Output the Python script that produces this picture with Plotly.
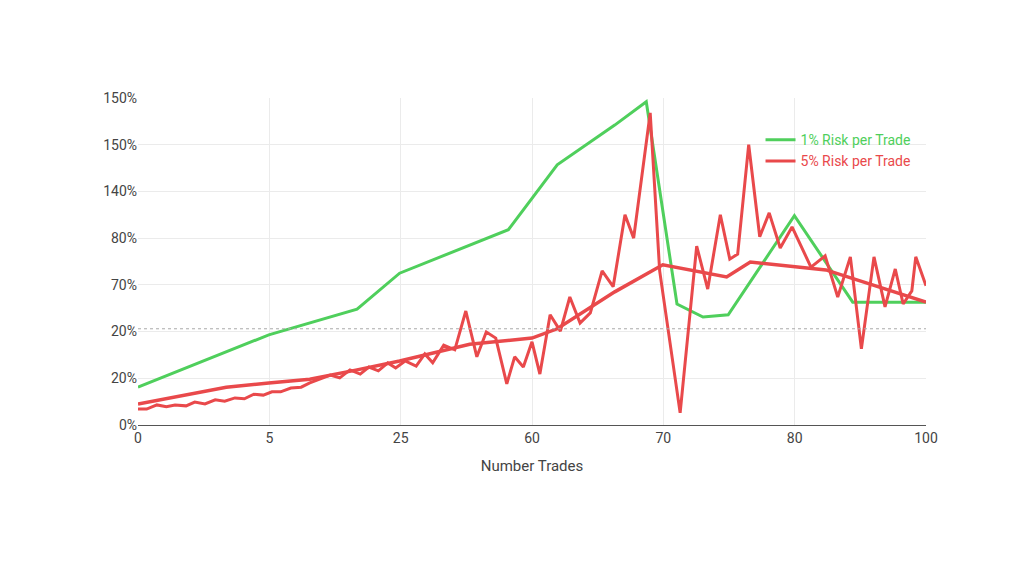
import plotly.graph_objects as go

green_x = [0, 16.6, 27.8, 33.2, 47.0, 53.2, 60.5, 64.5, 68.4, 71.7, 74.9, 83.3, 90.7, 100]
green_y = [0.81, 1.93, 2.48, 3.25, 4.18, 5.57, 6.42, 6.92, 2.59, 2.31, 2.36, 4.48, 2.63, 2.63]

smooth_x = [0, 11.2, 16.6, 21.8, 27.8, 33.2, 42.1, 50.0, 53.2, 60.5, 66.6, 74.7, 77.7, 83.3, 87.3, 100]
smooth_y = [0.45, 0.81, 0.90, 0.98, 1.18, 1.37, 1.73, 1.86, 2.06, 2.85, 3.43, 3.17, 3.49, 3.40, 3.32, 2.63]

red_x = [0, 1.1, 2.4, 3.6, 4.7, 6.1, 7.2, 8.5, 9.8, 11.0, 12.3, 13.5, 14.7, 15.9, 17.0, 18.1, 19.4, 20.7,
         21.8, 23.1, 24.4, 25.6, 26.9, 28.2, 29.3, 30.5, 31.7, 32.7, 33.9, 35.3, 36.4, 37.4, 38.8, 40.2,
         41.6, 43.0, 44.2, 45.4, 46.8, 47.8, 48.9, 50.0, 51.0, 52.3, 53.6, 54.8, 56.1, 57.4, 58.9, 60.3,
         61.8, 62.9, 65.0, 66.2, 68.8, 70.9, 72.3, 73.9, 75.1, 76.1, 77.5, 78.9, 80.1, 81.5, 83.0, 85.4,
         87.2, 88.8, 90.4, 91.8, 93.4, 94.8, 96.1, 97.1, 98.2, 98.7, 100]
red_y = [0.34, 0.34, 0.43, 0.39, 0.43, 0.41, 0.49, 0.45, 0.54, 0.51, 0.58, 0.56, 0.66, 0.64, 0.71, 0.71, 0.79, 0.81,
         0.90, 0.98, 1.07, 1.01, 1.18, 1.09, 1.24, 1.16, 1.33, 1.22, 1.37, 1.26, 1.52, 1.33, 1.71, 1.61,
         2.44, 1.46, 1.99, 1.86, 0.88, 1.46, 1.24, 1.78, 1.09, 2.36, 2.01, 2.74, 2.18, 2.40, 3.30, 2.96,
         4.50, 4.00, 6.68, 3.30, 0.26, 3.83, 2.91, 4.50, 3.55, 3.66, 6.00, 4.03, 4.54, 3.79, 4.24, 3.38,
         3.62, 2.74, 3.60, 1.63, 3.60, 2.53, 3.34, 2.59, 2.87, 3.60, 2.98]

x_tickvals = [0, 16.667, 33.333, 50, 66.667, 83.333, 100]
x_ticktext = ["0", "5", "25", "60", "70", "80", "100"]
y_tickvals = [0, 1, 2, 3, 4, 5, 6, 7]
y_ticktext = ["0%", "20%", "20%", "70%", "80%", "140%", "150%", "150%"]
ref_level = 2.06

GREEN = "#4fcf5c"
RED = "#e9494b"

fig = go.Figure()
fig.add_trace(go.Scatter(x=green_x, y=green_y, mode="lines",
                         name=f"<span style='color:{GREEN}'>1% Risk per Trade</span>",
                         line=dict(color=GREEN, width=3)))
fig.add_trace(go.Scatter(x=red_x, y=red_y, mode="lines",
                         name=f"<span style='color:{RED}'>5% Risk per Trade</span>",
                         line=dict(color=RED, width=3)))
fig.add_trace(go.Scatter(x=smooth_x, y=smooth_y, mode="lines", showlegend=False,
                         line=dict(color=RED, width=3.5)))
fig.add_hline(y=ref_level, line=dict(color="#aaaaaa", width=1, dash="dot"))

fig.update_layout(
    width=1024, height=585, plot_bgcolor="white", paper_bgcolor="white",
    margin=dict(l=130, r=106, t=90, b=168),
    font=dict(family="Roboto", size=14, color="#444"),
    legend=dict(x=0.79, y=0.92, xanchor="left", yanchor="top", bgcolor="rgba(0,0,0,0)",
                font=dict(size=14)),
    xaxis=dict(range=[0, 100], tickvals=x_tickvals, ticktext=x_ticktext, showgrid=True,
               gridcolor="#ebebeb", zeroline=False, showline=True, linecolor="#555",
               title=dict(text="Number Trades", font=dict(size=15, color="#444")), ticks=""),
    yaxis=dict(range=[0, 7], tickvals=y_tickvals, ticktext=y_ticktext, showgrid=True,
               gridcolor="#ebebeb", zeroline=False, ticks=""),
)
fig.write_html("out.html")
